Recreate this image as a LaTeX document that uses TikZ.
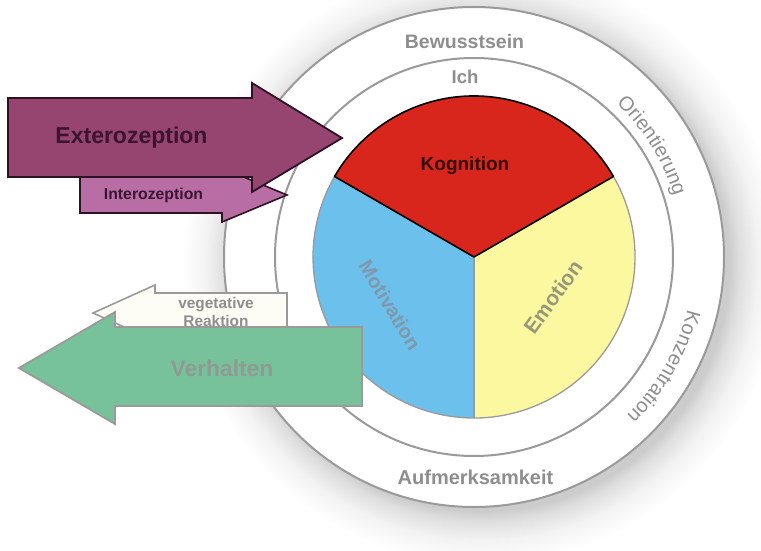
\documentclass[tikz,border=0pt]{standalone}
\usepackage{fontspec}
\setmainfont{Liberation Sans}
\usetikzlibrary{decorations.text,calc}
\definecolor{extero}{HTML}{964470}
\definecolor{intero}{HTML}{B86EA4}
\definecolor{arrowline}{HTML}{2E1224}
\definecolor{verh}{HTML}{78C29B}
\definecolor{veget}{HTML}{FDFCF5}
\definecolor{kred}{HTML}{D8261D}
\definecolor{kblue}{HTML}{6CC0EC}
\definecolor{kyellow}{HTML}{FCF8A0}
\definecolor{ringline}{HTML}{9A9A9A}
\definecolor{ringtext}{HTML}{8E8E8E}
\definecolor{darktext}{HTML}{3B1530}
\definecolor{verhtext}{HTML}{8E9A93}
\definecolor{mottext}{HTML}{7F98AA}
\definecolor{emotext}{HTML}{97977A}
\pgfdeclareradialshading{ringshadow}{\pgfpoint{0bp}{0bp}}{%
  color(0bp)=(black!20); color(20.6bp)=(black!20); color(21.4bp)=(black!13);
  color(23bp)=(black!5); color(25bp)=(white); color(50bp)=(white)}
\tikzset{
  ring/.style={draw=ringline, line width=2pt},
  ringlabel/.style={text=ringtext, font=\bfseries\fontsize{19.5}{20}\selectfont, inner sep=0pt},
  pielabel/.style={font=\bfseries\fontsize{20}{20}\selectfont, inner sep=0pt},
}
\begin{document}
\begin{tikzpicture}[x=1pt,y=1pt]
\useasboundingbox (0,0) rectangle (761,550);
\fill[white] (0,0) rectangle (761,550);
% soft shadow
\shade[shading=ringshadow] (482,286) circle[radius=300pt];
\coordinate (c) at (474,293);
% rings
\fill[white] (c) circle[radius=250pt];
\draw[ring] (c) circle[radius=250pt];
\draw[ring] (c) circle[radius=199pt];
% pie
\fill[kblue] (c) -- ++(150:161) arc[start angle=150,end angle=270,radius=161pt] -- cycle;
\fill[kyellow] (c) -- ++(270:161) arc[start angle=270,end angle=390,radius=161pt] -- cycle;
\draw[ringline, line width=1.3pt] ($(c)+(30:161)$) arc[start angle=30,end angle=-210,radius=161pt];
\draw[ringline, line width=1.3pt] (c) -- ++(270:161);
\filldraw[fill=kred, draw=black, line width=1.6pt, line join=round] (c) -- ++(30:161) arc[start angle=30,end angle=150,radius=161pt] -- cycle;
% ring labels
\node[ringlabel] (bew) at (464.5,508) {Bewusstsein};
\node[ringlabel, font=\bfseries\fontsize{18.5}{20}\selectfont] (ich) at (465,473) {Ich};
\node[ringlabel, font=\bfseries\fontsize{20}{20}\selectfont] (auf) at (475.5,73) {Aufmerksamkeit};
\path[decorate, decoration={text along path, text align=center,
  text={|\fontsize{20}{20}\selectfont\color{ringtext}|Orientierung}}]
  ($(c)+(65:209)$) arc[start angle=65,end angle=-1,radius=209pt];
\path[decorate, decoration={text along path, text align=center,
  text={|\fontsize{20}{20}\selectfont\color{ringtext}|Konzentration}}]
  ($(c)+(4:220)$) arc[start angle=4,end angle=-64,radius=220pt];
% pie labels
\node[pielabel, text={black!75!kred}, font=\bfseries\fontsize{19}{20}\selectfont] (kog) at (465,384) {Kognition};
\node[pielabel, text=mottext, rotate=-59] (mot) at (390,245) {Motivation};
\node[pielabel, text=emotext, rotate=54, font=\bfseries\fontsize{21}{20}\selectfont] (emo) at (553,253) {Emotion};
% vegetative Reaktion arrow
\filldraw[fill=veget, draw=ringline, line width=1.6pt]
  (287,257) -- (155,257) -- (155,265) -- (93,237) -- (155,209) -- (155,217) -- (287,217) -- cycle;
\node[text=ringtext, font=\bfseries\fontsize{15.4}{18}\selectfont, align=center, inner sep=0pt] (veg) at (216,238) {vegetative\\ Reaktion};
% Verhalten arrow
\filldraw[fill=verh, draw=ringline, line width=1.8pt]
  (362,223) -- (115,223) -- (115,238) -- (19,182) -- (115,126) -- (115,144) -- (362,144) -- cycle;
\node[text=verhtext, font=\bfseries\fontsize{22.8}{24}\selectfont, inner sep=0pt] (verh) at (222,182) {Verhalten};
% Interozeption arrow
\filldraw[fill=intero, draw=arrowline, line width=1.6pt]
  (80,373) -- (222,373) -- (222,382) -- (287,355) -- (222,328) -- (222,337) -- (80,337) -- cycle;
\node[text=darktext, font=\bfseries\fontsize{15.8}{18}\selectfont, inner sep=0pt] (intero) at (153.5,355) {Interozeption};
% Exterozeption arrow
\filldraw[fill=extero, draw=arrowline, line width=1.8pt]
  (8,452) -- (252,452) -- (252,467) -- (342,412) -- (252,358) -- (252,373) -- (8,373) -- cycle;
\node[text=darktext, font=\bfseries\fontsize{23}{24}\selectfont, inner sep=0pt] (extero) at (131.5,412) {Exterozeption};
\end{tikzpicture}
\end{document}
